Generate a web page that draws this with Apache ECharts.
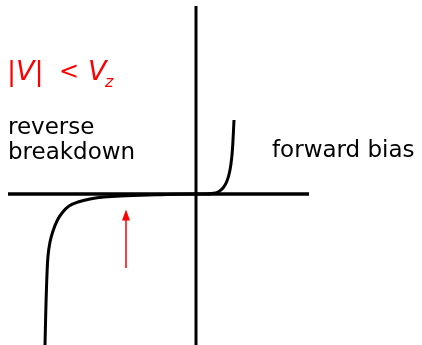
<!DOCTYPE html>
<html>
<head>
<meta charset="utf-8">
<script src="https://cdn.jsdelivr.net/npm/echarts@6/dist/echarts.min.js"></script>
<style>
html, body { margin: 0; padding: 0; background: #fff; }
#main { width: 422px; height: 345px; }
</style>
</head>
<body>
<div id="main"></div>
<script>
// diode I-V curve (arbitrary units, origin at the axes crossing)
var curveV = [-151, -150, -149, -148, -146, -143, -139, -134, -127, -118, -106, -92, -70, -40, 0, 9, 16, 22, 27, 31, 34, 36, 37, 38];
var curveI = [-151, -110, -80, -62, -48, -37, -27, -19, -12, -8, -5, -3, -1.8, -0.8, 0, 0, 0.5, 2, 6, 13, 24, 39, 54, 74];

// the two axis lines
var axisV = [-188, 113];
var axisI = [188, -151];

// red arrow under the flat part
var arrowV = -70;
var arrowI = [-74, -21];

var labels = ['reverse\nbreakdown', 'forward bias'];

var curveData = [];
for (var i = 0; i < curveV.length; i++) {
    curveData.push([curveV[i], curveI[i]]);
}

var red = '#ff0000';
var mathFont = 'DejaVu Sans';

var chart = echarts.init(document.getElementById('main'));
var option = {
    animation: false,
    grid: { left: 0, right: 0, top: 0, bottom: 0 },
    xAxis: { type: 'value', min: -196, max: 226, show: false },
    yAxis: { type: 'value', min: -151, max: 194, show: false },
    series: [
        {
            // horizontal axis
            type: 'line',
            data: [[axisV[0], 0], [axisV[1], 0]],
            showSymbol: false,
            lineStyle: { color: '#000', width: 3.5 }
        },
        {
            // vertical axis
            type: 'line',
            data: [[0, axisI[0]], [0, axisI[1]]],
            showSymbol: false,
            lineStyle: { color: '#000', width: 3 }
        },
        {
            type: 'line',
            data: curveData,
            smooth: 0.4,
            showSymbol: false,
            lineStyle: { color: '#000', width: 3 }
        },
        {
            type: 'line',
            data: [],
            markLine: {
                silent: true,
                symbol: ['none', 'triangle'],
                symbolSize: [8, 11],
                label: { show: false },
                lineStyle: { color: red, width: 1.5, type: 'solid' },
                data: [[{ coord: [arrowV, arrowI[0]] }, { coord: [arrowV, arrowI[1]] }]]
            }
        }
    ],
    graphic: [
        // |V| < V_z
        {
            type: 'text',
            left: 7, top: 59,
            style: {
                text: '{n||}{i|V}{n||}',
                rich: {
                    n: { fontFamily: mathFont, fontSize: 27, fill: red },
                    i: { fontFamily: mathFont, fontSize: 27, fontStyle: 'italic', fill: red }
                }
            }
        },
        {
            type: 'text',
            left: 59, top: 61,
            style: { text: '<', fontFamily: mathFont, fontSize: 24, fill: red }
        },
        {
            type: 'text',
            left: 88, top: 59,
            style: { text: 'V', fontFamily: mathFont, fontSize: 27, fontStyle: 'italic', fill: red }
        },
        {
            type: 'text',
            left: 105, top: 75,
            style: { text: 'z', fontFamily: mathFont, fontSize: 16, fontStyle: 'italic', fill: red }
        },
        {
            type: 'text',
            left: 8, top: 116,
            style: { text: labels[0], fontFamily: 'DejaVu Sans', fontSize: 23, lineHeight: 25, fill: '#000' }
        },
        {
            type: 'text',
            left: 272, top: 140,
            style: { text: labels[1], fontFamily: 'DejaVu Sans', fontSize: 23, fill: '#000' }
        }
    ]
};
chart.setOption(option);
</script>
</body>
</html>
